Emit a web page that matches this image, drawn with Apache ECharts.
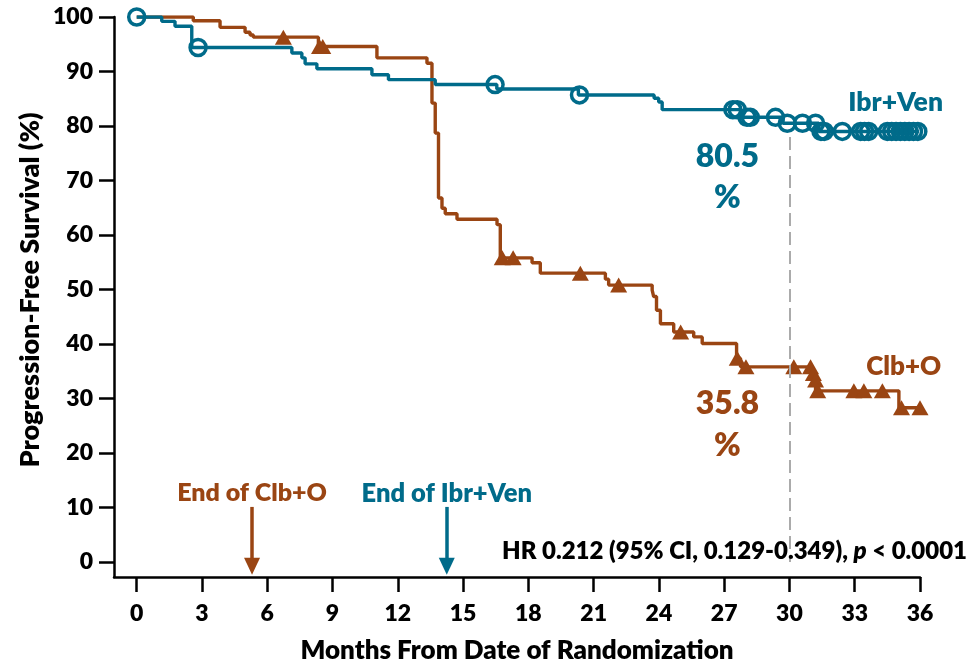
<!DOCTYPE html>
<html>
<head>
<meta charset="utf-8">
<script src="https://cdn.jsdelivr.net/npm/echarts@6/dist/echarts.min.js"></script>
<style>
  html, body { margin: 0; padding: 0; background: #ffffff; }
  #chart { width: 972px; height: 664px; }
</style>
</head>
<body>
<div id="chart"></div>
<script>
// Kaplan-Meier step points: [month, % progression-free after the event at that month]
const ivSteps = [
  [0, 100], [1.15, 99.2], [1.76, 98.3], [2.53, 94.4], [7.13, 93.4], [7.59, 92.5],
  [7.74, 91.4], [8.28, 90.5], [10.81, 89.4], [11.57, 88.5], [13.72, 87.6],
  [16.55, 86.8], [20.3, 85.7], [23.78, 85.1], [23.99, 84.4], [24.15, 83.0],
  [27.75, 81.6], [29.7, 80.5], [31.35, 79.0], [35.95, 79.0]
];
const clbSteps = [
  [0, 100], [2.6, 99.3], [3.83, 98.1], [4.98, 97.2], [5.21, 96.7], [5.36, 96.3],
  [8.35, 94.6], [11.04, 92.5], [13.34, 91.5], [13.57, 84.2], [13.72, 78.7],
  [13.87, 66.8], [14.03, 64.9], [14.18, 63.9], [14.72, 62.9], [16.56, 61.9],
  [16.71, 55.8], [18.17, 54.9], [18.55, 53.0], [21.54, 51.9], [21.69, 50.8],
  [23.69, 49.9], [23.76, 48.7], [23.89, 46.2], [24.07, 43.7], [24.68, 42.2],
  [25.6, 41.3], [25.99, 40.1], [27.57, 37.4], [27.75, 35.8], [30.97, 34.6],
  [31.06, 33.4], [31.2, 31.4], [35.03, 28.3], [36.0, 28.3]
];

// Censored observations
const ivCensored = [
  [0, 100], [2.82, 94.4], [16.47, 87.6], [20.35, 85.7], [27.4, 83.0], [27.6, 83.0],
  [28.05, 81.6], [28.2, 81.6], [29.36, 81.6], [29.9, 80.5], [30.6, 80.5], [31.2, 80.5],
  [31.45, 79.0], [31.6, 79.0], [32.43, 79.0], [33.27, 79.0], [33.45, 79.0], [33.64, 79.0],
  [34.5, 79.0], [34.7, 79.0], [34.9, 79.0], [35.1, 79.0], [35.3, 79.0], [35.5, 79.0],
  [35.7, 79.0], [35.9, 79.0]
];
const clbCensored = [
  [6.74, 96.3], [8.4, 94.6], [8.55, 94.6], [16.8, 55.8], [17.3, 55.8], [20.39, 53.0],
  [22.15, 50.8], [25.0, 42.2], [27.6, 37.4], [28.0, 35.8], [30.2, 35.8], [30.97, 35.8],
  [31.1, 34.6], [31.2, 33.4], [31.3, 31.4], [32.96, 31.4], [33.42, 31.4], [34.27, 31.4],
  [35.15, 28.3], [36.0, 28.3]
];

const xTicks = [0, 3, 6, 9, 12, 15, 18, 21, 24, 27, 30, 33, 36];
const yTicks = [0, 10, 20, 30, 40, 50, 60, 70, 80, 90, 100];

// 30-month landmark estimates
const landmarkMonth = 30;
const ivAtLandmark = 80.5;
const clbAtLandmark = 35.8;

// Last month of fixed-duration therapy in each arm
const clbTherapyEnd = 5.3;
const ivTherapyEnd = 14.25;

const TEAL = '#006b8a';
const BROWN = '#9a4513';
const FONT = 'Lato';
const WEIGHT = 800;

const chart = echarts.init(document.getElementById('chart'), null, { renderer: 'canvas' });

function arrowLine(month, color) {
  return [
    { coord: [month, 10.1], symbol: 'none' },
    { coord: [month, -0.8], symbol: 'triangle', symbolSize: [16, 17],
      lineStyle: { color: color, width: 3.5, type: 'solid' } }
  ];
}

const option = {
  animation: false,
  backgroundColor: '#ffffff',
  grid: { left: 114, right: 52, top: 17, bottom: 87, containLabel: false, outerBoundsMode: 'none' },
  xAxis: {
    type: 'value',
    min: -1.044,
    max: 36,
    name: 'Months From Date of Randomization',
    nameLocation: 'middle',
    nameGap: 61,
    nameTextStyle: { fontFamily: FONT, fontWeight: WEIGHT, fontSize: 26, color: '#000' },
    axisLine: { show: true, onZero: false, lineStyle: { color: '#000', width: 2.5 } },
    axisTick: { show: true, customValues: xTicks, length: 15, lineStyle: { color: '#000', width: 2.5 } },
    axisLabel: { customValues: xTicks, margin: 25, fontFamily: FONT, fontWeight: WEIGHT, fontSize: 23, color: '#000' },
    splitLine: { show: false }
  },
  yAxis: {
    type: 'value',
    min: -2.76,
    max: 100,
    axisLine: { show: true, onZero: false, lineStyle: { color: '#000', width: 2.5 } },
    axisTick: { show: true, customValues: yTicks, length: 15, lineStyle: { color: '#000', width: 2.5 } },
    axisLabel: { customValues: yTicks, margin: 21, fontFamily: FONT, fontWeight: WEIGHT, fontSize: 23, color: '#000' },
    splitLine: { show: false }
  },
  series: [
    {
      name: 'Clb+O',
      type: 'line',
      step: 'end',
      data: clbSteps,
      showSymbol: false,
      lineStyle: { color: BROWN, width: 3.4 },
      z: 2,
      markLine: {
        silent: true,
        animation: false,
        label: { show: false },
        symbol: ['none', 'none'],
        data: [
          [
            { coord: [landmarkMonth, ivAtLandmark - 2.5], symbol: 'none' },
            { coord: [landmarkMonth, 0], symbol: 'none',
              lineStyle: { color: '#ababab', width: 2, type: [13, 6] } }
          ],
          arrowLine(clbTherapyEnd, BROWN)
        ]
      }
    },
    {
      name: 'Ibr+Ven',
      type: 'line',
      step: 'end',
      data: ivSteps,
      showSymbol: false,
      lineStyle: { color: TEAL, width: 3.4 },
      z: 3,
      markLine: {
        silent: true,
        animation: false,
        label: { show: false },
        symbol: ['none', 'none'],
        data: [arrowLine(ivTherapyEnd, TEAL)]
      }
    },
    {
      name: 'Clb+O censored',
      type: 'scatter',
      data: clbCensored,
      symbol: 'triangle',
      symbolSize: [17, 15],
      itemStyle: { color: BROWN, opacity: 1 },
      z: 4
    },
    {
      name: 'Ibr+Ven censored',
      type: 'scatter',
      data: ivCensored,
      symbol: 'circle',
      symbolSize: 16,
      itemStyle: { color: 'rgba(255,255,255,0)', borderColor: TEAL, borderWidth: 3.5, opacity: 1 },
      z: 5
    }
  ]
};

chart.setOption(option);

// Annotations anchored in data space
const px = (m, p) => chart.convertToPixel({ gridIndex: 0 }, [m, p]);
function label(text, m, p, size, color) {
  const [x, y] = px(m, p);
  return {
    type: 'text', z: 10,
    style: { text: text, x: x, y: y, align: 'center', verticalAlign: 'middle',
             font: WEIGHT + ' ' + size + 'px ' + FONT, fill: color }
  };
}

chart.setOption({
  graphic: [
    label('Ibr+Ven', 34.88, 84.3, 26.5, TEAL),
    label('Clb+O', 35.25, 35.9, 26, BROWN),
    label(ivAtLandmark.toFixed(1), 27.15, 74.3, 32, TEAL),
    label('%', 27.15, 66.8, 32, TEAL),
    label(clbAtLandmark.toFixed(1), 27.15, 29.0, 32, BROWN),
    label('%', 27.15, 21.3, 32, BROWN),
    label('End of Clb+O', clbTherapyEnd, 12.6, 25, BROWN),
    label('End of Ibr+Ven', ivTherapyEnd, 12.6, 25.5, TEAL),
    {
      type: 'text', z: 10,
      style: {
        x: 967, y: 551, align: 'right', verticalAlign: 'middle',
        text: '{b|HR 0.212 (95% CI, 0.129-0.349), }{i|p}{b| < 0.0001}',
        rich: {
          b: { fontFamily: FONT, fontWeight: WEIGHT, fontSize: 24, fill: '#000' },
          i: { fontFamily: FONT, fontWeight: WEIGHT, fontStyle: 'italic', fontSize: 24, fill: '#000' }
        }
      }
    },
    {
      type: 'text', z: 10,
      x: 30, y: 290, rotation: Math.PI / 2,
      style: {
        text: 'Progression-Free Survival (%)', x: 0, y: 0, align: 'center', verticalAlign: 'middle',
        font: WEIGHT + ' 27px ' + FONT, fill: '#000'
      }
    }
  ]
});
</script>
</body>
</html>
